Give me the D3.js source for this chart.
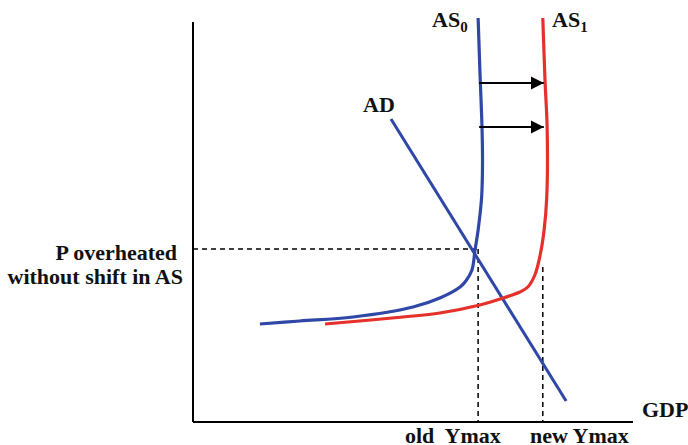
<!DOCTYPE html>
<html lang="en">
<head>
    <meta charset="UTF-8">
    <title>AS shift</title>
    <script src="https://d3js.org/d3.v7.min.js"></script>
    <style>
        body { margin: 0; background: #fff; }
        text { font-family: "Liberation Serif", "Times New Roman", serif; font-weight: bold; fill: #111; }
    </style>
</head>
<body>
    <div id="chart"></div>
    <script>
        // curve points (GDP, price), both on a 0-100 scale
        var as0 = [[64.8, 101], [65.2, 88], [65.7, 73], [65.8, 64.75], [65.6, 56.25], [64.8, 48],
                   [64.1, 43], [63.4, 38], [62, 35.25], [60.7, 33.75], [56.1, 31], [50, 28.75],
                   [36.4, 26.25], [24.3, 25.25], [15.2, 24.5]];
        var as1 = [[79.5, 101], [80, 85.5], [80.5, 73], [80.4, 56.25], [79.8, 48], [78.9, 41.75],
                   [77.7, 36.75], [76.1, 33.75], [74.3, 32.5], [70.5, 31], [65.2, 29.25],
                   [56.1, 27.25], [47.7, 26.25], [30, 24.5]];
        var ad = [[45, 75.75], [84.8, 5.25]];
        var pLevel = 43.25;
        var oldYmax = 64.8;
        var newYmax = 79.5;
        var newYmaxTop = 38.75;
        var arrowLevels = [84.75, 73.75];

        var svg = d3.select("#chart").append("svg")
            .attr("width", 688)
            .attr("height", 445);

        var x = d3.scaleLinear().domain([0, 100]).range([193, 633]);
        var y = d3.scaleLinear().domain([0, 100]).range([422, 22]);

        svg.append("defs").append("marker")
            .attr("id", "head")
            .attr("viewBox", "0 0 10 10")
            .attr("refX", 10).attr("refY", 5)
            .attr("markerWidth", 6).attr("markerHeight", 6)
            .attr("markerUnits", "strokeWidth")
            .attr("orient", "auto")
            .append("path").attr("d", "M0,0L10,5L0,10Z").attr("fill", "#000");

        // dashed guides
        var dash = "5,4";
        svg.append("line")
            .attr("x1", x(0)).attr("x2", x(oldYmax))
            .attr("y1", y(pLevel)).attr("y2", y(pLevel))
            .attr("stroke", "#000").attr("stroke-width", 1.5).attr("stroke-dasharray", dash);
        svg.append("line")
            .attr("x1", x(oldYmax)).attr("x2", x(oldYmax))
            .attr("y1", y(pLevel)).attr("y2", y(0))
            .attr("stroke", "#000").attr("stroke-width", 1.5).attr("stroke-dasharray", dash);
        svg.append("line")
            .attr("x1", x(newYmax)).attr("x2", x(newYmax))
            .attr("y1", y(newYmaxTop)).attr("y2", y(0))
            .attr("stroke", "#000").attr("stroke-width", 1.5).attr("stroke-dasharray", dash);

        // axes
        svg.append("line")
            .attr("x1", x(0)).attr("x2", x(0)).attr("y1", y(100)).attr("y2", y(0))
            .attr("stroke", "#000").attr("stroke-width", 2);
        svg.append("line")
            .attr("x1", x(0)).attr("x2", x(100)).attr("y1", y(0)).attr("y2", y(0))
            .attr("stroke", "#000").attr("stroke-width", 2);

        var line = d3.line()
            .x(function(d) { return x(d[0]); })
            .y(function(d) { return y(d[1]); })
            .curve(d3.curveCatmullRom.alpha(0.5));

        svg.append("path").attr("d", line(ad))
            .attr("fill", "none").attr("stroke", "#2f47a6").attr("stroke-width", 3);
        svg.append("path").attr("d", line(as1))
            .attr("fill", "none").attr("stroke", "#e5312b").attr("stroke-width", 3.2);
        svg.append("path").attr("d", line(as0))
            .attr("fill", "none").attr("stroke", "#2f47a6").attr("stroke-width", 3.2);

        // shift arrows
        svg.selectAll(".shift")
            .data(arrowLevels)
            .enter().append("line")
            .attr("class", "shift")
            .attr("x1", x(oldYmax) + 1).attr("x2", x(newYmax) + 1)
            .attr("y1", function(d) { return y(d); })
            .attr("y2", function(d) { return y(d); })
            .attr("stroke", "#000").attr("stroke-width", 2.2)
            .attr("marker-end", "url(#head)");

        // labels
        var as0Label = svg.append("text").attr("x", 432).attr("y", 27).style("font-size", "22px");
        as0Label.append("tspan").text("AS");
        as0Label.append("tspan").attr("dy", 5).style("font-size", "15px").text("0");
        var as1Label = svg.append("text").attr("x", 552).attr("y", 27).style("font-size", "22px");
        as1Label.append("tspan").text("AS");
        as1Label.append("tspan").attr("dy", 5).style("font-size", "15px").text("1");

        svg.append("text").attr("x", 363).attr("y", 112).style("font-size", "22px").text("AD");
        svg.append("text").attr("x", 642).attr("y", 417).style("font-size", "22px").text("GDP");
        svg.append("text").attr("x", 405).attr("y", 443).style("font-size", "22px")
            .attr("xml:space", "preserve").text("old  Ymax");
        svg.append("text").attr("x", 530).attr("y", 443).style("font-size", "22px").text("new Ymax");

        svg.append("text").attr("x", 177).attr("y", 260).attr("text-anchor", "end")
            .style("font-size", "22px").text("P overheated");
        svg.append("text").attr("x", 183).attr("y", 284).attr("text-anchor", "end")
            .style("font-size", "22px").text("without shift in AS");
    </script>
</body>
</html>
